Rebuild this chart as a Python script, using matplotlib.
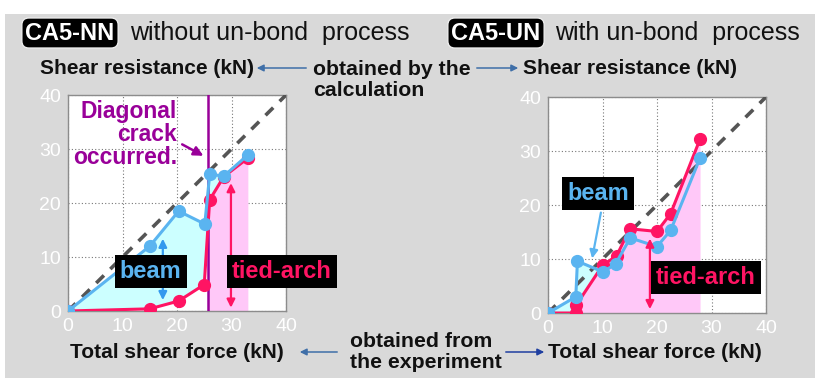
import matplotlib
matplotlib.use("Agg")
import matplotlib.pyplot as plt
import numpy as np
from matplotlib.patches import Rectangle, FancyArrowPatch

# fonts
arial = ['Liberation Sans', 'DejaVu Sans']

# data: CA5-NN (without un-bond)
nn_x_beam = [0, 15.0, 20.3, 25.1, 26.0, 28.6, 33.0]
nn_y_beam = [0, 12.0, 18.5, 16.1, 25.3, 25.0, 28.9]
nn_x_arch = [0, 15.0, 20.3, 25.0, 26.0, 28.6, 33.0]
nn_y_arch = [0, 0.4, 1.85, 4.9, 20.6, 24.9, 28.3]
nn_crack = 25.7

# data: CA5-UN (with un-bond)
un_x_beam = [0, 5.1, 5.4, 10.1, 12.4, 15.1, 20.0, 22.5, 27.9]
un_y_beam = [0, 3.0, 9.6, 7.6, 9.1, 13.9, 12.3, 15.3, 28.7]
un_x_arch = [0, 5.1, 5.2, 10.0, 12.6, 15.0, 20.0, 22.5, 27.9]
un_y_arch = [0, 0.0, 1.5, 8.8, 10.6, 15.6, 15.1, 18.4, 32.2]

ticks = [0, 10, 20, 30, 40]

BLUE = '#5ab4f0'
RED = '#ff1463'
CYAN = '#ccffff'
PINK = '#ffc8f8'
PURPLE = '#990099'
BG = '#d9d9d9'

W, H = 815, 378
fig = plt.figure(figsize=(W / 100, H / 100), dpi=100)
fig.patch.set_facecolor('white')


def fx(x):
    return x / W


def fy(y):
    return 1 - y / H


# slide background
fig.patches.append(Rectangle((fx(5), 0), 1 - fx(5), fy(14), transform=fig.transFigure,
                             facecolor=BG, edgecolor='none', zorder=-10))


def make_axes(l, t, r, b):
    ax = fig.add_axes([fx(l), fy(b), (r - l) / W, (b - t) / H])
    ax.set_xlim(0, 40)
    ax.set_ylim(0, 40)
    ax.set_xticks(ticks)
    ax.set_yticks(ticks)
    ax.grid(True, linestyle=(0, (1, 2)), color='#777777', linewidth=0.8)
    ax.tick_params(length=0, colors='white', labelsize=14, pad=5)
    for lab in ax.get_xticklabels() + ax.get_yticklabels():
        lab.set_family(arial)
    for s in ax.spines.values():
        s.set_color('#8c8c8c')
        s.set_linewidth(1.0)
    ax.set_axisbelow(True)
    ax.plot([0, 40], [0, 40], color='#555555', linewidth=2.6, dashes=(3, 2.5), zorder=3)
    return ax


def series(ax, xb, yb, xa, ya):
    ax.plot(xa, ya, color=RED, linewidth=2.2, marker='o', markersize=8.5, zorder=5)
    ax.plot(xb, yb, color=BLUE, linewidth=2.2, marker='o', markersize=8.5, zorder=6)


def label_box(ax, x, y, text, color, size=17):
    ax.text(x, y, text, color=color, fontsize=size, fontweight='bold', family=arial,
            ha='center', va='center', zorder=8, clip_on=False,
            bbox=dict(boxstyle='square,pad=0.22', fc='black', ec='none'))


# ---- left chart ----
ax1 = make_axes(68, 95, 286, 311)
xs = np.linspace(0, 33, 400)
bl = np.interp(xs, nn_x_beam, nn_y_beam)
rd = np.interp(xs, nn_x_arch, nn_y_arch)
ax1.fill_between(xs, 0, rd, where=xs >= nn_crack, color=PINK, linewidth=0, zorder=1)
ax1.fill_between(xs, rd, bl, where=bl >= rd, color=CYAN, linewidth=0, zorder=1)
ax1.axvline(nn_crack, color=PURPLE, linewidth=1.8, zorder=4)
series(ax1, nn_x_beam, nn_y_beam, nn_x_arch, nn_y_arch)
ax1.text(20.0, 32.6, 'Diagonal\ncrack\noccurred.', color=PURPLE, fontsize=16.5,
         fontweight='bold', family=arial, ha='right', va='center', linespacing=1.0, zorder=8)
ax1.annotate('', xy=(25.3, 28.5), xytext=(20.5, 31.1),
             arrowprops=dict(arrowstyle='-|>', color=PURPLE, lw=1.8, mutation_scale=14), zorder=8)
ax1.annotate('', xy=(17.4, 1.5), xytext=(17.4, 13.9),
             arrowprops=dict(arrowstyle='<|-|>', color='#3399ee', lw=1.6, mutation_scale=12), zorder=7)
ax1.annotate('', xy=(29.9, 0.1), xytext=(29.9, 24.2),
             arrowprops=dict(arrowstyle='<|-|>', color=RED, lw=1.6, mutation_scale=12), zorder=7)
label_box(ax1, 15.2, 7.3, 'beam', BLUE)
label_box(ax1, 39.2, 7.3, 'tied-arch', RED)

# ---- right chart ----
ax2 = make_axes(548, 97, 766, 313)
xs = np.linspace(0, 27.9, 400)
bl = np.interp(xs, un_x_beam, un_y_beam)
rd = np.interp(xs, un_x_arch, un_y_arch)
ax2.fill_between(xs, 0, rd, color=PINK, linewidth=0, zorder=1)
ax2.fill_between(xs, rd, bl, where=bl >= rd, color=CYAN, linewidth=0, zorder=1)
series(ax2, un_x_beam, un_y_beam, un_x_arch, un_y_arch)
ax2.annotate('', xy=(8.0, 9.6), xytext=(9.8, 19.1),
             arrowprops=dict(arrowstyle='-|>', color=BLUE, lw=1.6, mutation_scale=12), zorder=7)
ax2.annotate('', xy=(18.7, 0.2), xytext=(18.7, 14.3),
             arrowprops=dict(arrowstyle='<|-|>', color=RED, lw=1.6, mutation_scale=12), zorder=7)
label_box(ax2, 9.2, 22.1, 'beam', BLUE)
label_box(ax2, 29.0, 6.6, 'tied-arch', RED)

# ---- slide texts ----
hdr = dict(fontsize=18, family=arial, va='center', color='#111111')
tag = dict(ha='center', color='white', fontsize=17, family=arial, fontweight='bold', va='center',
           bbox=dict(boxstyle='round,pad=0.15,rounding_size=0.3', fc='black', ec='#eeeeee', lw=1))
fig.text(fx(70), fy(33), 'CA5-NN', **tag)
fig.text(fx(130), fy(33), 'without un-bond  process', ha='left', **hdr)
fig.text(fx(496), fy(33), 'CA5-UN', **tag)
fig.text(fx(555), fy(33), 'with un-bond  process', ha='left', **hdr)

sub = dict(fontsize=15, family=arial, fontweight='bold', va='center', color='#111111')
fig.text(fx(40), fy(68), 'Shear resistance (kN)', ha='left', **sub)
fig.text(fx(523), fy(68), 'Shear resistance (kN)', ha='left', **sub)
fig.text(fx(70), fy(352), 'Total shear force (kN)', ha='left', **sub)
fig.text(fx(548), fy(352), 'Total shear force (kN)', ha='left', **sub)

mid = dict(fontsize=15.3, family=arial, fontweight='bold', va='center', ha='left', color='#111111',
           linespacing=1.15)
fig.text(fx(313), fy(80), 'obtained by the\ncalculation', **mid)
fig.text(fx(350), fy(352), 'obtained from\nthe experiment', **mid)


def slide_arrow(x0, x1, y, color='#3f6fa8'):
    fig.add_artist(FancyArrowPatch((fx(x0), fy(y)), (fx(x1), fy(y)), transform=fig.transFigure,
                                   arrowstyle='-|>', color=color, lw=1.1, mutation_scale=10))


slide_arrow(309, 254, 68)
slide_arrow(474, 521, 68)
slide_arrow(340, 297, 352)
slide_arrow(503, 547, 352, color='#1f3fa0')

fig.savefig('out.png', dpi=100, facecolor=fig.get_facecolor())
